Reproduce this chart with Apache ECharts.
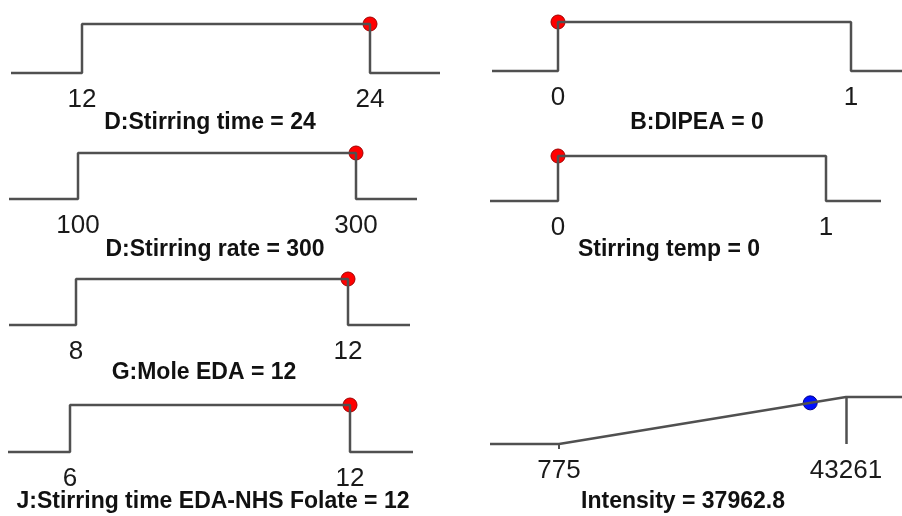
<!DOCTYPE html>
<html>
<head>
<meta charset="utf-8">
<script src="https://cdn.jsdelivr.net/npm/echarts@6/dist/echarts.min.js"></script>
<style>
  html, body { margin: 0; padding: 0; background: #fff; }
  #chart { width: 902px; height: 516px; }
</style>
</head>
<body>
<div id="chart"></div>
<script>
// factor ramps: low / high limits and the chosen setting
const titles = [
  'D:Stirring time',
  'B:DIPEA',
  'D:Stirring rate',
  'Stirring temp',
  'G:Mole EDA',
  'J:Stirring time EDA-NHS Folate',
  'Intensity'
]
const lows = [12, 0, 100, 0, 8, 6, 775]
const highs = [24, 1, 300, 1, 12, 12, 43261]
const values = [24, 0, 300, 0, 12, 12, 37962.8]
const valueText = ['24', '0', '300', '0', '12', '12', '37962.8']
// last one is the response (ramp), the rest are factors (step)
const isResponse = [false, false, false, false, false, false, true]

// pixel layout of each ramp: line start, low, high, line end, top y, base y, title centre
const layout = [
  { x0: 11, xLo: 82, xHi: 370, x1: 440, yTop: 24, yLow: 73, tx: 210, ty: 123 },
  { x0: 492, xLo: 558, xHi: 851, x1: 902, yTop: 22, yLow: 71, tx: 697, ty: 123 },
  { x0: 9, xLo: 78, xHi: 356, x1: 417, yTop: 153, yLow: 199, tx: 215, ty: 250 },
  { x0: 490, xLo: 558, xHi: 826, x1: 881, yTop: 156, yLow: 201, tx: 669, ty: 250 },
  { x0: 9, xLo: 76, xHi: 348, x1: 410, yTop: 279, yLow: 325, tx: 204, ty: 373 },
  { x0: 8, xLo: 70, xHi: 350, x1: 413, yTop: 405, yLow: 452, tx: 213, ty: 502 },
  { x0: 490, xLo: 559, xHi: 846, x1: 902, yTop: 397, yLow: 444, tx: 683, ty: 502 }
]

const lineColor = '#505050'
const grid = []
const xAxis = []
const yAxis = []
const series = []
const graphic = []

titles.forEach(function(name, i) {
  const L = layout[i]
  const lo = lows[i]
  const hi = highs[i]
  const span = hi - lo
  const pxSpan = L.xHi - L.xLo
  const min = lo - (L.xLo - L.x0) / pxSpan * span
  const max = hi + (L.x1 - L.xHi) / pxSpan * span

  grid.push({ left: L.x0, top: L.yTop, width: L.x1 - L.x0, height: L.yLow - L.yTop })
  xAxis.push({
    gridIndex: i,
    type: 'value',
    min: min,
    max: max,
    axisLine: { show: false },
    splitLine: { show: false },
    axisTick: {
      show: isResponse[i],
      customValues: [lo],
      length: 5,
      lineStyle: { color: lineColor, width: 2 }
    },
    axisLabel: {
      customValues: [lo, hi],
      margin: 14,
      fontSize: 26,
      color: '#1a1a1a',
      fontFamily: 'Liberation Sans, Arial, sans-serif',
      formatter: function(v) { return String(v) }
    }
  })
  yAxis.push({ gridIndex: i, type: 'value', min: 0, max: 1, show: false })

  let ramp
  let dotY
  if (isResponse[i]) {
    ramp = [[min, 0], [lo, 0], [hi, 1], [max, 1]]
    dotY = (values[i] - lo) / span
  } else {
    ramp = [[min, 0], [lo, 0], [lo, 1], [hi, 1], [hi, 0], [max, 0]]
    dotY = 1
  }
  series.push({
    type: 'line',
    xAxisIndex: i,
    yAxisIndex: i,
    data: ramp,
    symbol: 'none',
    clip: false,
    silent: true,
    lineStyle: { color: lineColor, width: 2.5 },
    markLine: isResponse[i] ? {
      symbol: 'none',
      silent: true,
      label: { show: false },
      lineStyle: { color: lineColor, width: 2.5, type: 'solid' },
      data: [{ xAxis: hi }]
    } : undefined
  })
  series.push({
    type: 'scatter',
    xAxisIndex: i,
    yAxisIndex: i,
    data: [[values[i], dotY]],
    symbol: 'circle',
    symbolSize: 14,
    clip: false,
    itemStyle: {
      opacity: 1,
      color: isResponse[i] ? '#0010ff' : '#ff0000',
      borderColor: isResponse[i] ? '#00008a' : '#a00000',
      borderWidth: 1
    }
  })
  graphic.push({
    type: 'text',
    x: L.tx,
    y: L.ty,
    style: {
      text: name + ' = ' + valueText[i],
      align: 'center',
      verticalAlign: 'middle',
      fill: '#111',
      font: 'bold 23px "Liberation Sans", Arial, sans-serif'
    }
  })
})

const myChart = echarts.init(document.getElementById('chart'))
myChart.setOption({
  animation: false,
  backgroundColor: '#fff',
  grid: grid,
  xAxis: xAxis,
  yAxis: yAxis,
  series: series,
  graphic: graphic
})
</script>
</body>
</html>
